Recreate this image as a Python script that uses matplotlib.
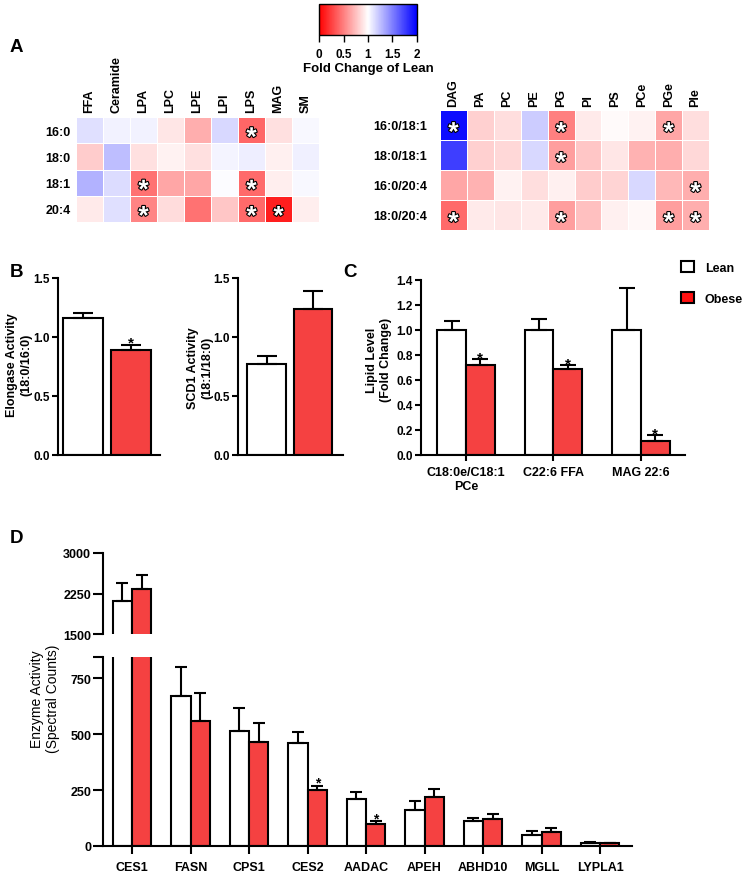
import numpy as np
import matplotlib
matplotlib.use("Agg")
import matplotlib.pyplot as plt
import matplotlib.patheffects as pe
from matplotlib.colors import LinearSegmentedColormap, Normalize
from matplotlib.cm import ScalarMappable
from matplotlib.patches import Patch

plt.rcParams['font.family'] = ['Liberation Sans', 'DejaVu Sans']
plt.rcParams['font.weight'] = 'bold'
plt.rcParams['axes.labelweight'] = 'bold'
plt.rcParams['axes.linewidth'] = 1.5

# ---- panel A data (fold change of lean) ----
lyso_classes = ['FFA', 'Ceramide', 'LPA', 'LPC', 'LPE', 'LPI', 'LPS', 'MAG', 'SM']
lyso_chains = ['16:0', '18:0', '18:1', '20:4']
lyso_fold = [
    [1.12, 1.05, 1.05, 0.90, 0.68, 1.15, 0.40, 0.88, 1.03],
    [0.80, 1.25, 0.88, 0.95, 0.88, 1.04, 1.07, 0.94, 1.06],
    [1.30, 1.14, 0.45, 0.65, 0.65, 1.01, 0.42, 0.93, 1.03],
    [0.92, 1.12, 0.52, 0.86, 0.45, 0.78, 0.42, 0.12, 0.93],
]
lyso_sig = [('16:0', 'LPS'), ('18:1', 'LPA'), ('18:1', 'LPS'),
            ('20:4', 'LPA'), ('20:4', 'LPS'), ('20:4', 'MAG')]

dia_classes = ['DAG', 'PA', 'PC', 'PE', 'PG', 'PI', 'PS', 'PCe', 'PGe', 'PIe']
dia_chains = ['16:0/18:1', '18:0/18:1', '16:0/20:4', '18:0/20:4']
dia_fold = [
    [1.95, 0.82, 0.87, 1.20, 0.50, 0.92, 0.98, 0.95, 0.65, 0.87],
    [1.75, 0.82, 0.85, 1.15, 0.62, 0.78, 0.90, 0.70, 0.68, 0.85],
    [0.65, 0.70, 0.95, 0.87, 0.94, 0.80, 0.83, 1.15, 0.72, 0.68],
    [0.42, 0.92, 0.90, 0.92, 0.62, 0.75, 0.94, 0.97, 0.62, 0.68],
]
dia_sig = [('16:0/18:1', 'DAG'), ('16:0/18:1', 'PG'), ('16:0/18:1', 'PGe'),
           ('18:0/18:1', 'PG'), ('16:0/20:4', 'PIe'),
           ('18:0/20:4', 'DAG'), ('18:0/20:4', 'PG'), ('18:0/20:4', 'PGe'),
           ('18:0/20:4', 'PIe')]

# ---- panel B data ----
elong_mean = [1.165, 0.89]
elong_err = [0.035, 0.045]
scd1_mean = [0.77, 1.24]
scd1_err = [0.07, 0.15]

# ---- panel C data ----
lipid_names = ['C18:0e/C18:1\nPCe', 'C22:6 FFA', 'MAG 22:6']
lipid_lean = [1.0, 1.0, 1.0]
lipid_lean_err = [0.07, 0.085, 0.335]
lipid_obese = [0.72, 0.685, 0.11]
lipid_obese_err = [0.045, 0.035, 0.05]

# ---- panel D data ----
enzymes = ['CES1', 'FASN', 'CPS1', 'CES2', 'AADAC', 'APEH', 'ABHD10', 'MGLL', 'LYPLA1']
enz_lean = [2120, 670, 515, 460, 208, 160, 112, 50, 14]
enz_lean_err = [330, 130, 100, 50, 32, 40, 13, 17, 3]
enz_obese = [2340, 560, 465, 248, 100, 220, 120, 62, 12]
enz_obese_err = [260, 125, 85, 22, 10, 35, 22, 18, 2]
enz_sig = ['CES2', 'AADAC']

RED = '#f54141'
W, H = 747, 879
fig = plt.figure(figsize=(W / 100, H / 100), dpi=100)


def add_ax(x0, y0, x1, y1):
    return fig.add_axes([x0 / W, 1 - y1 / H, (x1 - x0) / W, (y1 - y0) / H])


cmap = LinearSegmentedColormap.from_list('rwb', [(1, 0, 0), (1, 1, 1), (0, 0, 1)])


def heatmap(ax, vals, cols, rows, sig, colpad, rowpad):
    v = np.array(vals)
    ax.pcolormesh(v, cmap=cmap, vmin=0, vmax=2, edgecolors='white', linewidth=0.5)
    ax.set_xlim(0, len(cols))
    ax.set_ylim(len(rows), 0)
    ax.xaxis.tick_top()
    ax.set_xticks(np.arange(len(cols)) + 0.5, cols, rotation=90, fontsize=9)
    ax.set_yticks(np.arange(len(rows)) + 0.5, rows, fontsize=9)
    ax.tick_params(axis='x', length=0, pad=colpad)
    ax.tick_params(axis='y', length=0, pad=rowpad)
    for s in ax.spines.values():
        s.set_visible(False)
    for r, c in sig:
        ax.annotate('*', (cols.index(c) + 0.5, rows.index(r) + 0.5),
                    xytext=(0, -11), textcoords='offset points',
                    ha='center', va='baseline', fontsize=19, color='white',
                    path_effects=[pe.withStroke(linewidth=1.6, foreground='black')])


ha1 = add_ax(76, 118, 319, 223)
heatmap(ha1, lyso_fold, lyso_classes, lyso_chains, lyso_sig, 3.5, 4)
ha2 = add_ax(440, 111, 709, 231)
heatmap(ha2, dia_fold, dia_classes, dia_chains, dia_sig, 3, 9)

cax = add_ax(319, 5, 417, 36)
cb = fig.colorbar(ScalarMappable(Normalize(0, 2), cmap), cax=cax, orientation='horizontal')
cb.set_ticks([0, 0.5, 1, 1.5, 2], labels=['0', '0.5', '1', '1.5', '2'])
cb.outline.set_linewidth(1)
cax.tick_params(direction='out', length=5, width=1, labelsize=8.5, pad=4)
cb.set_label('Fold Change of Lean', fontsize=9.5, fontweight='bold', labelpad=2)


def style_bar_axes(ax):
    ax.spines['top'].set_visible(False)
    ax.spines['right'].set_visible(False)
    ax.tick_params(axis='y', length=4, width=1.5, labelsize=8.5, pad=2)


def star(ax, x, y, fs=11, dy=-1.5):
    ax.annotate('*', (x, y), xytext=(0, dy), textcoords='offset points',
                ha='center', va='baseline', fontsize=fs)


# ---- panel B ----
for box, means, errs, xl in [((58, 279, 160, 456), elong_mean, elong_err, (-0.521, 1.604)),
                             ((238, 279, 343, 456), scd1_mean, scd1_err, (-0.613, 1.645))]:
    ax = add_ax(*box)
    ax.bar([0, 1], means, width=0.835, color=['white', RED], edgecolor='black', linewidth=1.5)
    ax.errorbar([0, 1], means, yerr=[[0, 0], errs], fmt='none', ecolor='black',
                elinewidth=1.5, capsize=7.5, capthick=1.5)
    ax.set_xlim(*xl)
    ax.set_ylim(0, 1.5)
    ax.set_yticks([0, 0.5, 1.0, 1.5])
    ax.set_xticks([])
    style_bar_axes(ax)
    if means is elong_mean:
        star(ax, 1, means[1] + errs[1])

fig.text(19 / W, 1 - 365 / H, 'Elongase Activity\n(18:0/16:0)', rotation=90,
         ha='center', va='center', fontsize=9, fontweight='bold', linespacing=1.3)
fig.text(200 / W, 1 - 368 / H, 'SCD1 Activity\n(18:1/18:0)', rotation=90,
         ha='center', va='center', fontsize=9, fontweight='bold', linespacing=1.3)

# ---- panel C ----
axc = add_ax(421, 281, 685, 456)
xc = np.arange(len(lipid_names))
bw = 0.33
axc.bar(xc - bw / 2, lipid_lean, width=bw, color='white', edgecolor='black', linewidth=1.5)
axc.bar(xc + bw / 2, lipid_obese, width=bw, color=RED, edgecolor='black', linewidth=1.5)
axc.errorbar(xc - bw / 2, lipid_lean, yerr=[np.zeros(3), lipid_lean_err], fmt='none',
             ecolor='black', elinewidth=1.5, capsize=5.5, capthick=1.5)
axc.errorbar(xc + bw / 2, lipid_obese, yerr=[np.zeros(3), lipid_obese_err], fmt='none',
             ecolor='black', elinewidth=1.5, capsize=5.5, capthick=1.5)
for i in range(3):
    star(axc, xc[i] + bw / 2, lipid_obese[i] + lipid_obese_err[i])
axc.set_xlim(-0.514, 2.503)
axc.set_ylim(0, 1.4)
axc.set_yticks(np.arange(0, 1.41, 0.2), [f'{v:.1f}' for v in np.arange(0, 1.41, 0.2)])
axc.set_xticks(xc, lipid_names, fontsize=9)
style_bar_axes(axc)
axc.tick_params(axis='x', length=4, width=1.5, pad=4)
fig.text(379 / W, 1 - 360 / H, 'Lipid Level\n(Fold Change)', rotation=90,
         ha='center', va='center', fontsize=9, fontweight='bold', linespacing=1.3)

fig.legend(handles=[Patch(facecolor='white', edgecolor='black', linewidth=1.5, label='Lean'),
                    Patch(facecolor='#ff1010', edgecolor='black', linewidth=1.5, label='Obese')],
           loc='upper left', bbox_to_anchor=(681 / W, 1 - 262 / H), frameon=False,
           handlelength=1.0, handleheight=1.0, labelspacing=1.45, fontsize=9,
           handletextpad=0.9, borderaxespad=0, borderpad=0)

# ---- panel D (broken axis) ----
xd = np.arange(len(enzymes))
bw = 0.333
dtop = add_ax(103, 554, 632, 635)
dbot = add_ax(103, 658, 632, 847)
for ax in (dtop, dbot):
    ax.bar(xd - bw / 2, enz_lean, width=bw, color='white', edgecolor='black', linewidth=1.5)
    ax.bar(xd + bw / 2, enz_obese, width=bw, color=RED, edgecolor='black', linewidth=1.5)
    ax.errorbar(xd - bw / 2, enz_lean, yerr=[np.zeros(len(xd)), enz_lean_err], fmt='none',
                ecolor='black', elinewidth=1.5, capsize=4.5, capthick=1.5)
    ax.errorbar(xd + bw / 2, enz_obese, yerr=[np.zeros(len(xd)), enz_obese_err], fmt='none',
                ecolor='black', elinewidth=1.5, capsize=4.5, capthick=1.5)
    ax.set_xlim(-0.496, 8.547)
    ax.spines['top'].set_visible(False)
    ax.spines['right'].set_visible(False)
    ax.tick_params(axis='y', length=7, width=1.5, labelsize=9, pad=1.5)

dtop.set_ylim(1500, 3000)
dtop.set_yticks([1500, 2250, 3000])
dtop.spines['bottom'].set_visible(False)
dtop.set_xticks([])

dbot.set_ylim(0, 844)
dbot.set_yticks([0, 250, 500, 750, 844], ['0', '250', '500', '750', ''])
dbot.set_xticks(xd, enzymes, fontsize=9)
dbot.tick_params(axis='x', length=6, width=1.5, pad=5)
for name in enz_sig:
    i = enzymes.index(name)
    star(dbot, xd[i] + bw / 2, enz_obese[i] + enz_obese_err[i], fs=10, dy=-1)

fig.text(45 / W, 1 - 699 / H, 'Enzyme Activity\n(Spectral Counts)', rotation=90,
         ha='center', va='center', fontsize=10, fontweight='normal', linespacing=1.15)

# panel letters
for letter, px, py in [('A', 10, 52), ('B', 10, 277), ('C', 343, 277), ('D', 10, 543)]:
    fig.text(px / W, 1 - py / H, letter, fontsize=13.5, fontweight='bold', va='baseline')

fig.savefig('out.png', dpi=100)
